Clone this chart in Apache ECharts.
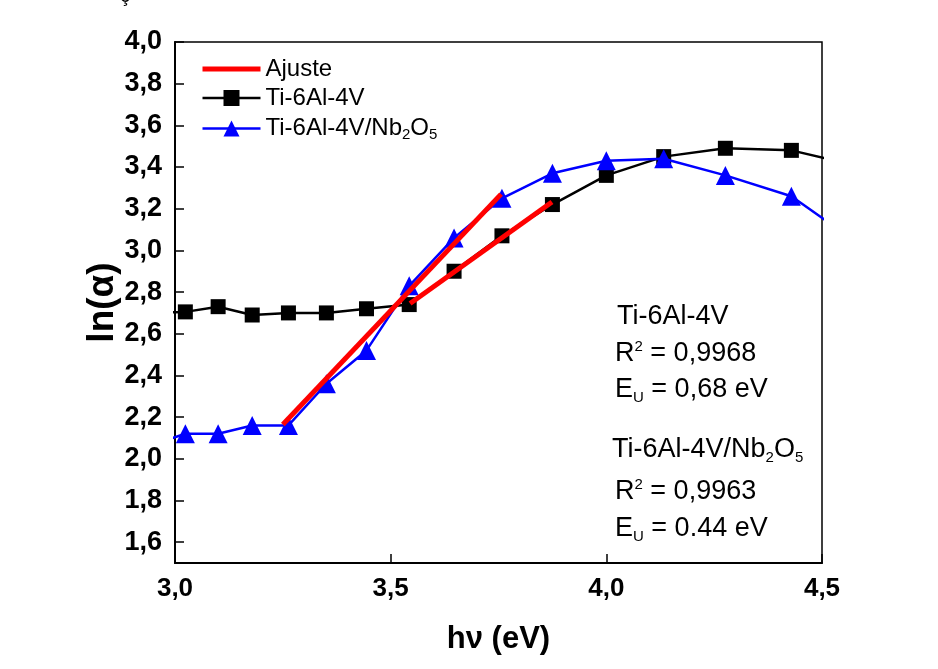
<!DOCTYPE html>
<html>
<head>
<meta charset="utf-8">
<script src="https://cdn.jsdelivr.net/npm/echarts@6/dist/echarts.min.js"></script>
<style>
  html, body { margin: 0; padding: 0; background: #fff; }
  #chart { width: 938px; height: 669px; }
</style>
</head>
<body>
<div id="chart"></div>
<script>
// photon energy (eV), one point per 10 nm step
const energy = [2.952, 3.024, 3.100, 3.179, 3.263, 3.351, 3.444, 3.543, 3.647, 3.758, 3.875, 4.000, 4.133, 4.276, 4.429, 4.593]
const lnAlphaTi = [2.70, 2.705, 2.73, 2.69, 2.70, 2.70, 2.72, 2.74, 2.90, 3.07, 3.22, 3.36, 3.45, 3.49, 3.48, 3.40]
const lnAlphaNb = [2.07, 2.12, 2.12, 2.16, 2.16, 2.36, 2.52, 2.83, 3.06, 3.25, 3.37, 3.43, 3.44, 3.36, 3.26, 3.02]

// linear fits (Urbach region)
const fitNb = [[3.25, 2.165], [3.756, 3.27]]
const fitTi = [[3.545, 2.745], [3.874, 3.232]]

const yTicks = [1.6, 1.8, 2.0, 2.2, 2.4, 2.6, 2.8, 3.0, 3.2, 3.4, 3.6, 3.8, 4.0]
const xTicks = [3.0, 3.5, 4.0, 4.5]

const font = "'Liberation Sans', Arial, sans-serif"
const comma = v => v.toFixed(1).replace(".", ",")

const chart = echarts.init(document.getElementById("chart"), null, { renderer: "canvas" })

const textRich = {
  n: { fontSize: 27, fontFamily: font, color: "#000", lineHeight: 32 },
  sup: { fontSize: 15, fontFamily: font, color: "#000", lineHeight: 32, padding: [0, 0, 14, 0] },
  sub: { fontSize: 15, fontFamily: font, color: "#000", lineHeight: 32, padding: [16, 0, 0, 0] }
}

function note(text, x, y) {
  return { type: "text", x, y, z: 10, style: { text, rich: textRich, font: "27px " + font, verticalAlign: "middle" } }
}

chart.setOption({
  animation: false,
  backgroundColor: "#fff",
  grid: { left: 175, top: 42, right: 116, bottom: 106, show: true, borderColor: "#000", borderWidth: 1.5, backgroundColor: "transparent" },
  legend: {
    orient: "vertical",
    left: 195,
    top: 52,
    itemWidth: 58,
    itemHeight: 20,
    itemGap: 5,
    itemTextGap: 5,
    data: [
      { name: "Ajuste", itemStyle: { opacity: 0 }, lineStyle: { width: 5 } },
      { name: "Ti-6Al-4V", lineStyle: { width: 2.5 } },
      { name: "Ti-6Al-4V/Nb2O5", lineStyle: { width: 2.5 } }
    ],
    formatter: name => name === "Ti-6Al-4V/Nb2O5" ? "{n|Ti-6Al-4V/Nb}{sub|2}{n|O}{sub|5}" : "{n|" + name + "}",
    textStyle: {
      fontFamily: font, fontSize: 24, color: "#000",
      rich: {
        n: { fontSize: 24, fontFamily: font, color: "#000", lineHeight: 20 },
        sub: { fontSize: 15, fontFamily: font, color: "#000", lineHeight: 20, padding: [12, 0, 0, 0] }
      }
    }
  },
  xAxis: {
    type: "value",
    min: 3.0,
    max: 4.5,
    interval: 0.5,
    name: "h\u03bd (eV)",
    nameLocation: "middle",
    nameGap: 61,
    nameMoveOverlap: false,
    nameTextStyle: { fontFamily: font, fontSize: 31, fontWeight: "bold", color: "#000" },
    axisLine: { lineStyle: { color: "#000", width: 2 } },
    axisTick: { inside: true, length: 9, lineStyle: { color: "#000", width: 1.5 }, customValues: xTicks },
    axisLabel: { margin: 13, fontFamily: font, fontSize: 26, fontWeight: "bold", color: "#000", formatter: v => comma(v), customValues: xTicks },
    splitLine: { show: false }
  },
  yAxis: {
    type: "value",
    min: 1.5,
    max: 4.0,
    name: "ln(\u03b1)",
    nameLocation: "middle",
    nameGap: 54,
    nameMoveOverlap: false,
    nameTextStyle: { fontFamily: font, fontSize: 37, fontWeight: "bold", color: "#000" },
    axisLine: { show: true, lineStyle: { color: "#000", width: 2 } },
    axisTick: { show: true, inside: true, length: 9, lineStyle: { color: "#000", width: 1.5 }, customValues: yTicks },
    axisLabel: { margin: 13, fontFamily: font, fontSize: 27, fontWeight: "bold", color: "#000", formatter: v => comma(v), customValues: yTicks },
    splitLine: { show: false }
  },
  graphic: [
    { type: "text", x: 120, y: -14, style: { text: "\u00e7", font: "20px " + font, fill: "#000" } },
    note("{n|Ti-6Al-4V}", 617, 317),
    note("{n|R}{sup|2}{n| = 0,9968}", 615, 354),
    note("{n|E}{sub|U}{n| = 0,68 eV}", 615, 390),
    note("{n|Ti-6Al-4V/Nb}{sub|2}{n|O}{sub|5}", 612, 450),
    note("{n|R}{sup|2}{n| = 0,9963}", 615, 492),
    note("{n|E}{sub|U}{n| = 0.44 eV}", 615, 529)
  ],
  series: [
    {
      name: "Ti-6Al-4V",
      type: "line",
      data: energy.map((x, i) => [x, lnAlphaTi[i]]),
      symbol: "rect",
      symbolSize: 15,
      itemStyle: { color: "#000" },
      lineStyle: { color: "#000", width: 2.5 },
      z: 3
    },
    {
      name: "Ti-6Al-4V/Nb2O5",
      type: "line",
      data: energy.map((x, i) => [x, lnAlphaNb[i]]),
      symbol: "triangle",
      symbolSize: 19,
      itemStyle: { color: "#0000ff" },
      lineStyle: { color: "#0000ff", width: 2.5 },
      z: 4
    },
    {
      name: "Ajuste",
      type: "line",
      data: fitNb,
      symbol: "none",
      lineStyle: { color: "#ff0000", width: 5 },
      itemStyle: { color: "#ff0000" },
      z: 6
    },
    {
      name: "Ajuste",
      type: "line",
      data: fitTi,
      symbol: "none",
      lineStyle: { color: "#ff0000", width: 5 },
      itemStyle: { color: "#ff0000" },
      z: 6
    }
  ]
})
</script>
</body>
</html>
